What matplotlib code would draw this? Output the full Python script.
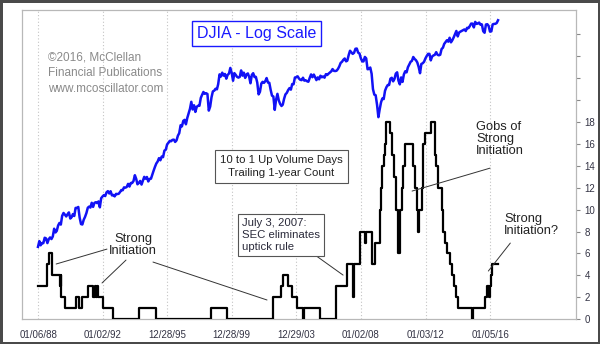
import matplotlib
matplotlib.use('Agg')
import matplotlib.pyplot as plt
import pandas as pd

plt.rcParams['font.family'] = ['Liberation Sans', 'DejaVu Sans']

# DJIA month-end closes, Jan 1988 .. Jul 2016
djia_close = [
    1958, 2072, 1988, 2032, 2031, 2142, 2129, 2032, 2113, 2149, 2115, 2169,
    2342, 2258, 2293, 2419, 2480, 2440, 2661, 2737, 2693, 2645, 2706, 2753,
    2591, 2627, 2707, 2657, 2877, 2881, 2905, 2614, 2453, 2442, 2560, 2634,
    2736, 2882, 2914, 2888, 3028, 2907, 3025, 3044, 3017, 3069, 2895, 3169,
    3224, 3267, 3236, 3359, 3397, 3319, 3394, 3257, 3272, 3226, 3306, 3301,
    3310, 3371, 3435, 3428, 3527, 3516, 3540, 3651, 3555, 3681, 3684, 3754,
    3978, 3832, 3636, 3682, 3758, 3625, 3765, 3913, 3843, 3908, 3739, 3834,
    3844, 4011, 4158, 4321, 4465, 4556, 4709, 4611, 4789, 4756, 5075, 5117,
    5395, 5486, 5587, 5569, 5643, 5655, 5529, 5616, 5882, 6029, 6522, 6448,
    6813, 6878, 6584, 7009, 7331, 7673, 8223, 7622, 7945, 7442, 7823, 7908,
    7907, 8546, 8800, 9063, 8900, 8952, 8883, 7539, 7843, 8592, 9117, 9181,
    9359, 9307, 9786, 10789, 10560, 10971, 10655, 10829, 10337, 10730, 10878, 11497,
    10941, 10128, 10922, 10734, 10522, 10448, 10522, 11215, 10651, 10971, 10415, 10787,
    10887, 10495, 9879, 10735, 10912, 10502, 10523, 9950, 8848, 9075, 9852, 10022,
    9920, 10106, 10404, 9946, 9925, 9243, 8737, 8664, 7592, 8397, 8896, 8342,
    8054, 7891, 7992, 8480, 8850, 8985, 9234, 9416, 9275, 9801, 9782, 10454,
    10488, 10584, 10358, 10226, 10188, 10435, 10140, 10174, 10080, 10027, 10428, 10783,
    10490, 10766, 10504, 10193, 10467, 10275, 10641, 10482, 10569, 10440, 10806, 10718,
    10865, 10993, 11109, 11367, 11168, 11150, 11186, 11381, 11679, 12081, 12222, 12463,
    12622, 12269, 12354, 13063, 13628, 13409, 13212, 13358, 13896, 13930, 13372, 13265,
    12650, 12266, 12263, 12820, 12638, 11350, 11378, 11544, 10851, 9325, 8829, 8776,
    8001, 7063, 7609, 8168, 8500, 8447, 9172, 9496, 9712, 9713, 10345, 10428,
    10067, 10325, 10857, 11009, 10137, 9774, 10466, 10015, 10788, 11118, 11006, 11578,
    11892, 12226, 12320, 12811, 12570, 12414, 12143, 11614, 10913, 11955, 12046, 12218,
    12633, 12952, 13212, 13214, 12393, 12880, 13009, 13091, 13437, 13096, 13026, 13104,
    13861, 14054, 14579, 14840, 15116, 14910, 15500, 14810, 15130, 15546, 16086, 16577,
    15699, 16322, 16458, 16581, 16717, 16827, 16563, 17098, 17043, 17391, 17828, 17823,
    17165, 18133, 17776, 17841, 18011, 17620, 17690, 16528, 16285, 17664, 17720, 17425,
    16466, 16517, 17685, 17774, 17787, 17930, 18432,
]

# 10-to-1 up volume days, trailing 1-year count (value holds until next date)
count_dates = [
    '1988-01-06', '1988-07-15', '1988-09-10', '1988-11-05', '1989-05-10',
    '1989-05-25', '1989-06-10', '1989-09-01', '1990-05-20', '1990-07-20',
    '1990-09-15', '1991-02-15', '1991-05-20', '1991-07-10', '1991-08-05',
    '1991-09-01', '1991-09-20', '1992-01-20', '1992-08-15', '1994-04-10',
    '1995-04-20', '1998-09-10', '1999-09-25', '2002-07-15', '2003-01-15',
    '2003-03-15', '2003-07-05', '2003-09-20', '2004-01-25', '2004-06-05',
    '2004-06-25', '2005-07-01', '2006-06-10', '2007-02-15', '2007-07-10',
    '2007-08-05', '2007-12-20', '2008-04-01', '2008-04-25', '2008-09-05',
    '2008-10-15', '2008-11-10', '2009-03-15', '2009-04-05', '2009-05-01',
    '2009-06-01', '2009-07-01', '2009-07-25', '2009-10-25', '2009-12-01',
    '2010-01-20', '2010-03-01', '2010-04-25', '2010-06-15', '2010-07-15',
    '2010-08-10', '2010-09-15', '2011-03-25', '2011-05-01', '2011-06-15',
    '2011-07-20', '2011-08-20', '2011-10-05', '2011-11-01', '2011-12-15',
    '2012-05-10', '2012-08-01', '2012-09-01', '2012-10-15', '2013-01-01',
    '2013-02-01', '2013-03-20', '2013-05-10', '2013-07-01', '2013-09-01',
    '2013-10-20', '2013-12-01', '2014-01-10', '2014-11-10', '2014-12-20',
    '2015-09-10', '2015-10-20', '2015-12-10', '2015-12-25', '2016-01-20',
    '2016-02-15', '2016-07-01',
]
count_values = [
    3, 5, 6, 4, 3,
    4, 2, 1, 2, 1,
    2, 3, 2, 3, 2,
    3, 2, 1, 0, 1,
    0, 1, 0, 2, 3,
    4, 3, 2, 1, 0,
    1, 0, 3, 5, 2,
    5, 8, 7, 8, 5,
    5, 7, 10, 12, 14,
    15, 16, 18, 17, 15,
    13, 10, 6, 10, 12,
    14, 16, 14, 12, 10,
    8, 10, 12, 16, 17,
    18, 15, 14, 12, 10,
    8, 7, 6, 5, 4,
    3, 2, 1, 0, 1,
    2, 3, 2, 3, 4,
    5, 5,
]

tick_dates = ['1988-01-06', '1992-01-02', '1995-12-28', '1999-12-28',
              '2003-12-29', '2008-01-02', '2012-01-03', '2016-01-05']

djia_dates = pd.date_range('1988-01-01', periods=len(djia_close), freq='MS')
cdates = pd.to_datetime(count_dates)
ticks = pd.to_datetime(tick_dates)

fig = plt.figure(figsize=(6, 3.44), dpi=100, facecolor='white',
                 edgecolor='#4a4a4a', linewidth=2.5)
ax = fig.add_axes([0.0367, 0.0718, 0.9233, 0.8992])
ax.set_xlim(pd.Timestamp('1987-01-05'), pd.Timestamp('2021-04-30'))
ax.set_ylim(0, 28.2)

# log-scale DJIA on its own hidden axis
ax2 = ax.twinx()
ax2.set_yscale('log')
ax2.set_ylim(956, 20400)
ax2.plot(djia_dates, djia_close, color='#1212f5', lw=1.8)
ax2.axis('off')

ax.plot(cdates, count_values, drawstyle='steps-post', color='black', lw=1.6, zorder=3)

for s in ax.spines.values():
    s.set_color('#b8b8b8')
    s.set_linewidth(0.9)

ax.set_xticks(ticks)
ax.set_xticklabels([t.strftime('%m/%d/%y') for t in ticks])
ax.tick_params(axis='x', length=0, pad=8, labelsize=7, labelcolor='#333344')
ax.grid(axis='x', color='#c4c4c4', linestyle=(0, (1, 2)), linewidth=0.8)

ax.yaxis.tick_right()
ax.set_yticks(range(0, 27, 2))
ax.set_yticklabels([str(v) if v <= 18 else '' for v in range(0, 27, 2)])
ax.tick_params(axis='y', direction='out', length=3, width=0.8, color='#888888',
               pad=3, labelsize=7, labelcolor='#333344')

ax.text(0.424, 0.924, 'DJIA - Log Scale', transform=ax.transAxes, ha='center', va='center',
        fontsize=11.5, color='#1a1aff',
        bbox=dict(boxstyle='square,pad=0.3', fc='white', ec='#1a1aff', lw=1))

ax.text(0.047, 0.865, '©2016, McClellan\nFinancial Publications\nwww.mcoscillator.com',
        transform=ax.transAxes, ha='left', va='top', fontsize=8.5, color='#8a8a8a',
        linespacing=1.4)

ax.text(0.4675, 0.494, '10 to 1 Up Volume Days\nTrailing 1-year Count', transform=ax.transAxes,
        ha='center', va='center', fontsize=8.2, color='#222222', linespacing=1.4,
        bbox=dict(boxstyle='square,pad=0.45', fc='white', ec='#555555', lw=0.8))

ax.text(0.397, 0.272, 'July 3, 2007:\nSEC eliminates\nuptick rule', transform=ax.transAxes,
        ha='left', va='center', fontsize=8.2, color='#2a2a3a', linespacing=1.25,
        bbox=dict(boxstyle='square,pad=0.35', fc='white', ec='#555555', lw=0.8), zorder=5)

ax.text(0.2004, 0.240, 'Strong\nInitiation', transform=ax.transAxes, ha='center', va='center',
        fontsize=9.3, color='#222222', linespacing=1.05)
ax.text(0.8195, 0.583, 'Gobs of\nStrong\nInitiation', transform=ax.transAxes, ha='left',
        va='center', fontsize=9.3, color='#222222', linespacing=1.05)
ax.text(0.870, 0.305, 'Strong\nInitiation?', transform=ax.transAxes, ha='left', va='center',
        fontsize=9.3, color='#222222', linespacing=1.05)

# leader lines from the notes down to the count line
leaders = [
    (('1992-04-10', 6.40), ('1989-02-15', 5.04)),
    (('1993-06-15', 5.40), ('1991-12-20', 3.31)),
    (('1995-02-15', 5.22), ('2002-03-10', 1.76)),
    (('2004-09-25', 6.31), ('2006-11-25', 4.03)),
    (('2016-01-01', 13.78), ('2011-03-05', 11.69)),
    (('2017-04-05', 6.95), ('2015-11-25', 4.40)),
]
for (d0, v0), (d1, v1) in leaders:
    ax.annotate('', xy=(pd.Timestamp(d1), v1), xytext=(pd.Timestamp(d0), v0),
                arrowprops=dict(arrowstyle='-', color='#333333', lw=0.7,
                                shrinkA=0, shrinkB=0), zorder=4)

fig.savefig('out.png', dpi=100)
